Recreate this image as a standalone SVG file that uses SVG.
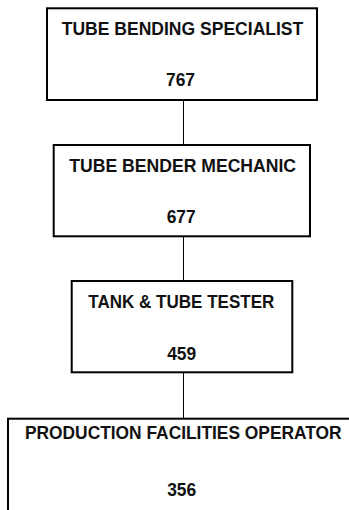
<svg xmlns="http://www.w3.org/2000/svg" width="349" height="510" viewBox="0 0 349 510">
<style>
.box{fill:#fff;stroke:#000;stroke-width:2}
.t{font-family:"Liberation Sans Narrow","Liberation Sans",Arial,sans-serif;font-weight:bold;font-size:19px;fill:#111;text-anchor:middle}
.c{stroke:#000;stroke-width:1;fill:none}
</style>
<rect width="349" height="510" fill="#fff"/>
<g id="connectors">
<line class="c" x1="183.5" y1="100" x2="183.5" y2="145"/>
<line class="c" x1="183.5" y1="236" x2="183.5" y2="281"/>
<line class="c" x1="183.5" y1="372" x2="183.5" y2="418"/>
</g>
<g id="n1">
<rect class="box" x="47" y="8.3" width="270" height="91.7"/>
<text class="t" x="182.5" y="35" textLength="241.6" lengthAdjust="spacingAndGlyphs">TUBE BENDING SPECIALIST</text>
<text class="t" x="180.5" y="86" textLength="29" lengthAdjust="spacingAndGlyphs">767</text>
</g>
<g id="n2">
<rect class="box" x="53.7" y="145" width="256.3" height="91.3"/>
<text class="t" x="182.7" y="172.3" textLength="226.7" lengthAdjust="spacingAndGlyphs">TUBE BENDER MECHANIC</text>
<text class="t" x="181.2" y="223.3" textLength="29" lengthAdjust="spacingAndGlyphs">677</text>
</g>
<g id="n3">
<rect class="box" x="71.7" y="281" width="220.6" height="91.3"/>
<text class="t" x="181.3" y="307.7" textLength="186" lengthAdjust="spacingAndGlyphs">TANK &amp; TUBE TESTER</text>
<text class="t" x="181.7" y="360" textLength="29" lengthAdjust="spacingAndGlyphs">459</text>
</g>
<g id="n4">
<rect class="box" x="8" y="418.7" width="360" height="120"/>
<text class="t" x="183.3" y="439.3" textLength="316.7" lengthAdjust="spacingAndGlyphs">PRODUCTION FACILITIES OPERATOR</text>
<text class="t" x="181.7" y="495.5" textLength="29" lengthAdjust="spacingAndGlyphs">356</text>
</g>
</svg>
